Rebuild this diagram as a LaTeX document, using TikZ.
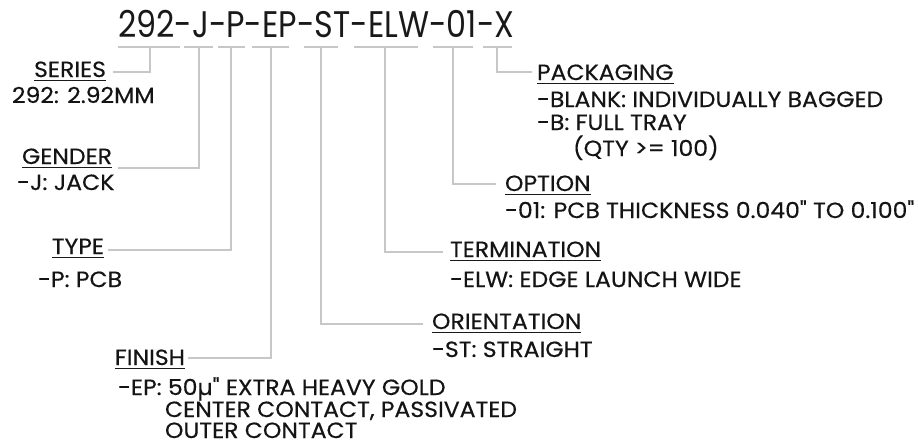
\documentclass[tikz,border=0pt]{standalone}
\usepackage{fontspec}
\setmainfont{Poppins}
\newfontfamily\bodyfont[FakeStretch=1.07,FakeBold=0.35]{Poppins}
\newfontfamily\titlefont[FakeStretch=0.86]{Poppins}
\begin{document}
\begin{tikzpicture}[x=1pt,y=-1pt,
  txt/.style={inner sep=0pt,outer sep=0pt,text=black!92,font=\bodyfont\fontsize{22}{22}\selectfont},
  ttl/.style={inner sep=0pt,outer sep=0pt,text=black!90,font=\titlefont\fontsize{37}{37}\selectfont},
  conn/.style={draw=black!22,line width=1.3pt},
  uline/.style={draw=black!90,line width=1.3pt}]
\useasboundingbox (0,0) rectangle (918,445);
% title
\node[ttl,anchor=base west] (title) at (118,37) {292-J-P-EP-ST-ELW-01-X};
% code underlines
\foreach \n/\a/\b in {s/118/180,j/184/213,p/218/245,ep/252/289,st/304/338,elw/354/418,o/433/473,x/483/512}{
  \coordinate (\n L) at (\a,47); \coordinate (\n R) at (\b,47);
  \draw[conn] (\n L) -- (\n R);
}
\coordinate (sT) at (150,47);
\coordinate (jT) at (199,47);
\coordinate (pT) at (231,47);
\coordinate (epT) at (271,47);
\coordinate (stT) at (321,47);
\coordinate (elwT) at (385,47);
\coordinate (oT) at (453,47);
\coordinate (xT) at (497,47);
% headings
\node[txt,anchor=base east] (series) at (106,77) {SERIES};
\node[txt,anchor=base west] (seriesd) at (12,103) {292: 2.92MM};
\node[txt,anchor=base east] (gender) at (112,164) {GENDER};
\node[txt,anchor=base west] (genderd) at (17,190) {-J: JACK};
\node[txt,anchor=base east] (type) at (104,254) {TYPE};
\node[txt,anchor=base west] (typed) at (38,287) {-P: PCB};
\node[txt,anchor=base east] (finish) at (185,365) {FINISH};
\node[txt,anchor=base west] (finishd1) at (118,395) {-EP: 50µ" EXTRA HEAVY GOLD};
\node[txt,anchor=base west] (finishd2) at (165,417) {CENTER CONTACT, PASSIVATED};
\node[txt,anchor=base west] (finishd3) at (165,438) {OUTER CONTACT};
\node[txt,anchor=base west] (orient) at (432,329) {ORIENTATION};
\node[txt,anchor=base west] (orientd) at (432,357) {-ST: STRAIGHT};
\node[txt,anchor=base west] (term) at (450,257) {TERMINATION};
\node[txt,anchor=base west] (termd) at (450,287) {-ELW: EDGE LAUNCH WIDE};
\node[txt,anchor=base west] (opt) at (505,191) {OPTION};
\node[txt,anchor=base west] (optd) at (505,218) {-01: PCB THICKNESS 0.040" TO 0.100"};
\node[txt,anchor=base west] (pack) at (537,80) {PACKAGING};
\node[txt,anchor=base west] (packd1) at (537,107) {-BLANK: INDIVIDUALLY BAGGED};
\node[txt,anchor=base west] (packd2) at (537,130) {-B: FULL TRAY};
\node[txt,anchor=base west] (packd3) at (573,156) {(QTY >= 100)};
% underlines of headings
\foreach \h in {series,gender,type,finish,orient,term,opt,pack}{
  \draw[uline] ([yshift=-3.5pt]\h.base west) -- ([yshift=-3.5pt]\h.base east);
}
% connectors
\coordinate (sE) at (113,72);
\coordinate (jE) at (118,168);
\coordinate (pE) at (108,250);
\coordinate (epE) at (188,358);
\coordinate (stE) at (423,324);
\coordinate (elwE) at (443,252);
\coordinate (oE) at (496,184);
\coordinate (xE) at (532,72);
\foreach \n in {s,j,p,ep,st,elw,o,x}{
  \draw[conn] (\n T) |- (\n E);
}
\end{tikzpicture}
\end{document}
